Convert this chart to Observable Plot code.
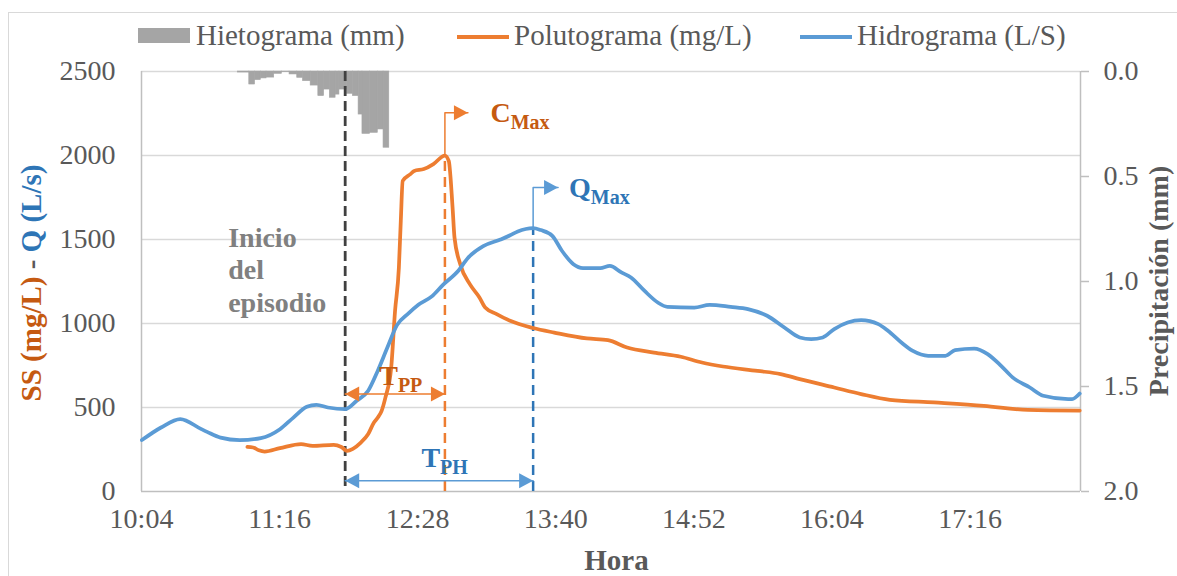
<!DOCTYPE html>
<html>
<head>
<meta charset="utf-8">
<script src="https://cdn.jsdelivr.net/npm/d3@7"></script>
<script src="https://cdn.jsdelivr.net/npm/@observablehq/plot@0.6"></script>
<style>
  body { margin: 0; background: #fff; font-family: "Liberation Serif", "Times New Roman", serif; }
  #wrap { position: relative; width: 1177px; height: 576px; overflow: hidden; background: #fff; }
  #frame { position: absolute; left: 8px; top: 12px; width: 1200px; height: 620px; border: 1px solid #D9D9D9; box-sizing: border-box; pointer-events: none; }
  #legend { position: relative; height: 56px; }
  .lg { position: absolute; top: 19px; font-size: 29px; line-height: 32px; color: #595959; white-space: nowrap; }
  .sw { position: absolute; }
  #chart { position: relative; }
  #chart svg text { font-family: "Liberation Serif", "Times New Roman", serif; }
</style>
</head>
<body>
<div id="wrap">
  <div id="frame"></div>
  <div id="legend">
    <div class="sw" style="left:138px;top:28px;width:52px;height:15px;background:#A5A5A5"></div>
    <div class="lg" style="left:196px">Hietograma (mm)</div>
    <div class="sw" style="left:457px;top:35px;width:52px;height:4px;background:#ED7D31"></div>
    <div class="lg" style="left:514px">Polutograma (mg/L)</div>
    <div class="sw" style="left:800px;top:35px;width:52px;height:4px;background:#5B9BD5"></div>
    <div class="lg" style="left:857px">Hidrograma (L/S)</div>
  </div>
  <div id="chart"></div>
</div>
<script>
// ---------------- DATA ----------------
// Hidrograma (L/s)
const hidroTimes = ["10:05","10:15","10:25","10:36","10:39","10:46","10:56","11:07","11:17","11:24","11:31","11:36","11:42","11:51","11:57","12:03","12:08","12:13","12:18","12:24","12:29","12:36","12:42","12:50","12:55","13:03","13:12","13:17","13:21","13:29","13:33","13:39","13:44","13:50","13:55","14:04","14:09","14:15","14:20","14:27","14:34","14:39","14:53","15:01","15:12","15:21","15:31","15:40","15:48","15:54","16:00","16:06","16:13","16:20","16:29","16:34","16:41","16:47","16:55","17:04","17:09","17:19","17:26","17:33","17:39","17:48","17:55","18:08","18:10","18:14"];
const hidroValues = [306,381,431,371,355,321,306,318,371,440,504,516,500,490,540,600,719,857,990,1060,1110,1160,1230,1314,1390,1460,1500,1525,1548,1568,1556,1522,1433,1353,1330,1330,1343,1304,1274,1195,1125,1099,1095,1111,1099,1086,1046,976,917,907,917,967,1006,1020,996,957,887,837,808,808,842,851,818,748,679,619,570,550,550,583];

// Polutograma (mg/L)
const poluTimes = ["11:00","11:03","11:06","11:09","11:17","11:28","11:34","11:45","11:49","11:52","11:55","11:59","12:03","12:06","12:08","12:10","12:12","12:15","12:17","12:19","12:20","12:21","12:25","12:27","12:32","12:37","12:43","12:45","12:47","12:48","12:51","12:56","13:01","13:04","13:10","13:17","13:29","13:40","13:57","14:08","14:18","14:32","14:46","14:57","15:08","15:26","15:38","15:48","16:06","16:20","16:35","16:58","17:24","17:47","18:14"];
const poluValues = [265,262,245,238,258,282,272,278,265,242,254,290,342,411,440,480,560,738,1075,1333,1611,1849,1889,1908,1919,1949,2000,1968,1690,1512,1353,1234,1155,1095,1056,1016,973,946,911,901,857,827,802,768,744,718,699,669,619,580,546,530,510,486,482];

// Hietograma (mm): start time of each interval, plus the end of the last one
const hietoTimes = ["10:55","11:01","11:04","11:07","11:10","11:14","11:18","11:22","11:26","11:29","11:33","11:37","11:40","11:43","11:46","11:48","11:52","11:55","11:58","12:00","12:04","12:08","12:11"];
const hietoEnd = "12:14";
const hietoValues = [0.005,0.062,0.041,0.033,0.029,0.011,0.003,0.014,0.030,0.046,0.067,0.117,0.086,0.125,0.110,0.086,0.106,0.117,0.205,0.297,0.292,0.276,0.363];

// Axes
const xTickDays = [0.42,0.47,0.52,0.57,0.62,0.67,0.72];
const xTickLabels = ["10:04","11:16","12:28","13:40","14:52","16:04","17:16"];
const xDomainDays = [0.42,0.76];
const yTicks = [0,500,1000,1500,2000,2500];
const yTickLabels = ["0","500","1000","1500","2000","2500"];
const mmTicks = [0,0.5,1,1.5,2];
const mmTickLabels = ["0.0","0.5","1.0","1.5","2.0"];

// Annotations (event times / levels)
const inicioTime = "11:51";
const inicioLabel = "Inicio\ndel\nepisodio";
const inicioLabelTime = "10:50", inicioLabelValue = 1590;
const cmaxTime = "12:43", cmaxValue = 2000, cmaxLeaderValue = 2254, cmaxArrowTime = "12:55";
const qmaxTime = "13:29", qmaxValue = 1568, qmaxLeaderValue = 1810, qmaxArrowTime = "13:42";
const tppValue = 581, tphValue = 64;
const labelMain   = ["C","Q","T","T"];
const labelSub    = ["Max","Max","PP","PH"];
const labelTimes  = ["13:07","13:48","12:09","12:31"];
const labelValues = [2195,1748,629,141];
const labelColors = ["#C55A11","#2E75B6","#C55A11","#2E75B6"];

// ---------------- BUILD ----------------
const FONT = '"Liberation Serif", "Times New Roman", serif';
const toDay = s => { const [h, m] = s.split(":").map(Number); return (h * 60 + m) / 1440; };
const Y_MAX = 2500, MM_MAX = 2.0, K = Y_MAX / MM_MAX;
const mmToY = mm => Y_MAX - mm * K;

const hidro = hidroTimes.map((t, i) => ({t: toDay(t), v: hidroValues[i]}));
const polu = poluTimes.map((t, i) => ({t: toDay(t), v: poluValues[i]}));
const hieto = hietoTimes.map((t, i) => ({
  x1: toDay(t),
  x2: toDay(i + 1 < hietoTimes.length ? hietoTimes[i + 1] : hietoEnd),
  top: Y_MAX,
  bot: mmToY(hietoValues[i])
}));

const tIni = toDay(inicioTime), tC = toDay(cmaxTime), tQ = toDay(qmaxTime);
const cLeader = [{t: tC, v: cmaxValue}, {t: tC, v: cmaxLeaderValue}, {t: toDay(cmaxArrowTime), v: cmaxLeaderValue}];
const qLeader = [{t: tQ, v: qmaxValue}, {t: tQ, v: qmaxLeaderValue}, {t: toDay(qmaxArrowTime), v: qmaxLeaderValue}];
const tpp = [{t: tIni, v: tppValue}, {t: tC, v: tppValue}];
const tph = [{t: tIni, v: tphValue}, {t: tQ, v: tphValue}];

const triR = {draw(ctx) { ctx.moveTo(0, 0); ctx.lineTo(-14, -7.5); ctx.lineTo(-14, 7.5); ctx.closePath(); }};
const triL = {draw(ctx) { ctx.moveTo(0, 0); ctx.lineTo(14, -7.5); ctx.lineTo(14, 7.5); ctx.closePath(); }};

const plot = Plot.plot({
  width: 1177,
  height: 520,
  marginLeft: 141,
  marginRight: 97,
  marginTop: 15,
  marginBottom: 85,
  style: {fontFamily: FONT, fontSize: "28px", color: "#595959", background: "transparent", overflow: "visible"},
  x: {type: "linear", domain: xDomainDays},
  y: {domain: [0, Y_MAX]},
  marks: [
    Plot.ruleY(yTicks.slice(1), {stroke: "#D9D9D9", strokeWidth: 1.4}),
    Plot.rect(hieto, {x1: "x1", x2: "x2", y1: "top", y2: "bot", fill: "#A5A5A5", stroke: "#A5A5A5", strokeWidth: 0.6}),
    Plot.ruleX([xDomainDays[0], xDomainDays[1]], {stroke: "#BFBFBF", strokeWidth: 1.5}),
    Plot.ruleY([0], {stroke: "#BFBFBF", strokeWidth: 1.5}),
    Plot.axisX(xTickDays, {tickSize: 0, tickPadding: 17, label: null, tickFormat: d => xTickLabels[xTickDays.indexOf(d)]}),
    Plot.axisY(yTicks, {anchor: "left", tickSize: 0, tickPadding: 26, label: null, tickFormat: d => yTickLabels[yTicks.indexOf(d)]}),
    Plot.axisY(mmTicks.map(mmToY), {anchor: "right", tickSize: 8, tickPadding: 15, label: null, stroke: "#BFBFBF", strokeWidth: 1.5, tickFormat: v => mmTickLabels[mmTicks.indexOf((Y_MAX - v) / K)]}),
    // event rules
    Plot.ruleX([{t: tIni}], {x: "t", stroke: "#404040", strokeWidth: 2.8, strokeDasharray: "10,5"}),
    Plot.ruleX([{t: tC, y1: 0, y2: cmaxValue}], {x: "t", y1: "y1", y2: "y2", stroke: "#ED7D31", strokeWidth: 2.5, strokeDasharray: "10,6"}),
    Plot.ruleX([{t: tQ, y1: 0, y2: qmaxValue}], {x: "t", y1: "y1", y2: "y2", stroke: "#2E75B6", strokeWidth: 2.5, strokeDasharray: "10,6"}),
    // series
    Plot.line(polu, {x: "t", y: "v", stroke: "#ED7D31", strokeWidth: 3.75, curve: "monotone-x"}),
    Plot.line(hidro, {x: "t", y: "v", stroke: "#5B9BD5", strokeWidth: 3.75, curve: "monotone-x"}),
    // leaders and arrows
    Plot.line(cLeader, {x: "t", y: "v", stroke: "#ED7D31", strokeWidth: 1.5}),
    Plot.line(qLeader, {x: "t", y: "v", stroke: "#5B9BD5", strokeWidth: 1.5}),
    Plot.dot([cLeader[2]], {x: "t", y: "v", symbol: triR, fill: "#ED7D31", r: 5}),
    Plot.dot([qLeader[2]], {x: "t", y: "v", symbol: triR, fill: "#5B9BD5", r: 5}),
    Plot.line(tpp, {x: "t", y: "v", stroke: "#ED7D31", strokeWidth: 1.5}),
    Plot.line(tph, {x: "t", y: "v", stroke: "#5B9BD5", strokeWidth: 1.5}),
    Plot.dot([tpp[0]], {x: "t", y: "v", symbol: triL, fill: "#ED7D31", r: 5}),
    Plot.dot([tpp[1]], {x: "t", y: "v", symbol: triR, fill: "#ED7D31", r: 5}),
    Plot.dot([tph[0]], {x: "t", y: "v", symbol: triL, fill: "#5B9BD5", r: 5}),
    Plot.dot([tph[1]], {x: "t", y: "v", symbol: triR, fill: "#5B9BD5", r: 5}),
    // "Inicio del episodio"
    Plot.text([{t: toDay(inicioLabelTime), v: inicioLabelValue, label: inicioLabel}], {x: "t", y: "v", text: "label", textAnchor: "start", lineAnchor: "top", lineHeight: 1.15, fontSize: 28, fontWeight: "bold", fill: "#808080"})
  ]
});

document.getElementById("chart").appendChild(plot);

// Labels with subscripts and axis titles, placed through the plot's scales
const svg = d3.select(plot);
const xs = plot.scale("x"), ys = plot.scale("y");
labelMain.forEach((m, i) => {
  const t = svg.append("text")
    .attr("x", xs.apply(toDay(labelTimes[i])))
    .attr("y", ys.apply(labelValues[i]))
    .attr("text-anchor", "start")
    .attr("fill", labelColors[i])
    .attr("font-weight", "bold")
    .attr("font-size", 28);
  t.append("tspan").text(m);
  t.append("tspan").attr("font-size", 20).attr("dy", 7).text(labelSub[i]);
});

const yMid = (ys.apply(0) + ys.apply(Y_MAX)) / 2;
const xMid = (xs.apply(xDomainDays[0]) + xs.apply(xDomainDays[1])) / 2;

const lt = svg.append("text")
  .attr("transform", `translate(41,${yMid + 2}) rotate(-90)`)
  .attr("text-anchor", "middle")
  .attr("font-weight", "bold")
  .attr("font-size", 29);
lt.append("tspan").attr("fill", "#C55A11").text("SS (mg/L)");
lt.append("tspan").attr("fill", "#595959").text(" - ");
lt.append("tspan").attr("fill", "#2E75B6").text("Q (L/s)");

svg.append("text")
  .attr("transform", `translate(1168,${yMid}) rotate(-90)`)
  .attr("text-anchor", "middle")
  .attr("font-weight", "bold")
  .attr("font-size", 28)
  .attr("fill", "#595959")
  .text("Precipitación (mm)");

svg.append("text")
  .attr("x", xMid + 6)
  .attr("y", 514)
  .attr("text-anchor", "middle")
  .attr("font-weight", "bold")
  .attr("font-size", 29)
  .attr("fill", "#595959")
  .text("Hora");

svg.selectAll("text").attr("font-family", FONT);
</script>
</body>
</html>
